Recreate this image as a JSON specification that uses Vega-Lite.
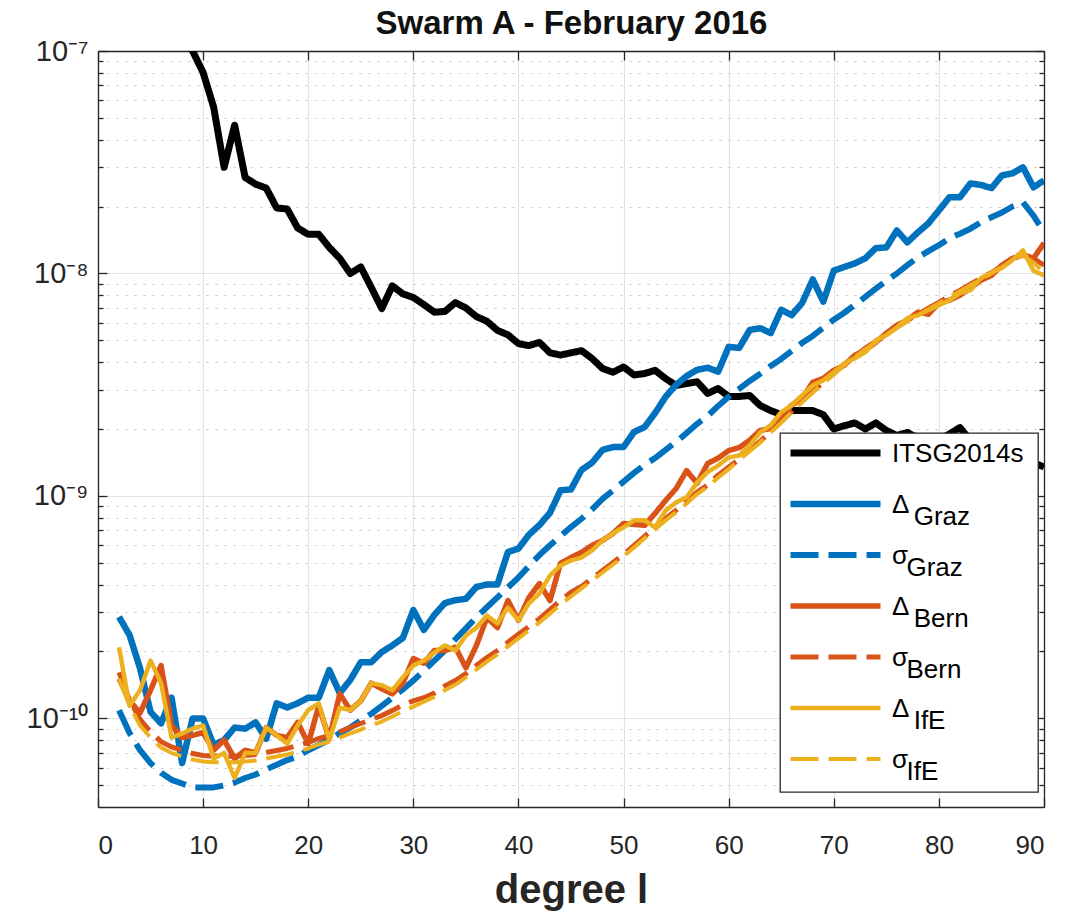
{
  "$schema": "https://vega.github.io/schema/vega-lite/v6.json",
  "width": 946,
  "height": 756,
  "autosize": {"type": "none"},
  "padding": {"left": 98, "top": 51, "right": 21, "bottom": 110},
  "background": "white",
  "data": {
    "values": [
      {"l": 2, "D_Graz": 2.86e-10, "S_Graz": 1.09e-10, "D_Bern": 1.51e-10, "S_Bern": 1.61e-10, "D_IfE": 2.09e-10, "S_IfE": 1.51e-10},
      {"l": 3, "D_Graz": 2.37e-10, "S_Graz": 8.6e-11, "D_Bern": 1.20e-10, "S_Bern": 1.21e-10, "D_IfE": 1.14e-10, "S_IfE": 1.14e-10},
      {"l": 4, "D_Graz": 1.68e-10, "S_Graz": 7.2e-11, "D_Bern": 1.06e-10, "S_Bern": 9.9e-11, "D_IfE": 1.34e-10, "S_IfE": 9.3e-11},
      {"l": 5, "D_Graz": 1.07e-10, "S_Graz": 6.3e-11, "D_Bern": 1.34e-10, "S_Bern": 8.72e-11, "D_IfE": 1.82e-10, "S_IfE": 8.2e-11},
      {"l": 6, "D_Graz": 9.5e-11, "S_Graz": 5.7e-11, "D_Bern": 1.73e-10, "S_Bern": 7.87e-11, "D_IfE": 1.44e-10, "S_IfE": 7.4e-11},
      {"l": 7, "D_Graz": 1.24e-10, "S_Graz": 5.3e-11, "D_Bern": 9.3e-11, "S_Bern": 7.45e-11, "D_IfE": 8.2e-11, "S_IfE": 7.0e-11},
      {"l": 8, "ITSG2014s": 1.25e-7, "D_Graz": 6.3e-11, "S_Graz": 5.1e-11, "D_Bern": 8.2e-11, "S_Bern": 7.18e-11, "D_IfE": 8.56e-11, "S_IfE": 6.75e-11},
      {"l": 9, "ITSG2014s": 1.0e-7, "D_Graz": 1.0e-10, "S_Graz": 4.9e-11, "D_Bern": 8.4e-11, "S_Bern": 6.96e-11, "D_IfE": 9.0e-11, "S_IfE": 6.54e-11},
      {"l": 10, "ITSG2014s": 8.0e-8, "D_Graz": 1.0e-10, "S_Graz": 4.9e-11, "D_Bern": 8.65e-11, "S_Bern": 6.82e-11, "D_IfE": 9.3e-11, "S_IfE": 6.41e-11},
      {"l": 11, "ITSG2014s": 5.6e-8, "D_Graz": 7.6e-11, "S_Graz": 4.9e-11, "D_Bern": 7.2e-11, "S_Bern": 6.76e-11, "D_IfE": 6.6e-11, "S_IfE": 6.35e-11},
      {"l": 12, "ITSG2014s": 3.0e-8, "D_Graz": 8.0e-11, "S_Graz": 5.0e-11, "D_Bern": 8.0e-11, "S_Bern": 6.76e-11, "D_IfE": 7.0e-11, "S_IfE": 6.35e-11},
      {"l": 13, "ITSG2014s": 4.64e-8, "D_Graz": 9.1e-11, "S_Graz": 5.15e-11, "D_Bern": 6.6e-11, "S_Bern": 6.76e-11, "D_IfE": 5.4e-11, "S_IfE": 6.35e-11},
      {"l": 14, "ITSG2014s": 2.7e-8, "D_Graz": 9.0e-11, "S_Graz": 5.4e-11, "D_Bern": 7.2e-11, "S_Bern": 6.82e-11, "D_IfE": 7.0e-11, "S_IfE": 6.41e-11},
      {"l": 15, "ITSG2014s": 2.52e-8, "D_Graz": 9.6e-11, "S_Graz": 5.6e-11, "D_Bern": 7.0e-11, "S_Bern": 6.88e-11, "D_IfE": 7.0e-11, "S_IfE": 6.47e-11},
      {"l": 16, "ITSG2014s": 2.42e-8, "D_Graz": 8.1e-11, "S_Graz": 5.9e-11, "D_Bern": 9.1e-11, "S_Bern": 7.03e-11, "D_IfE": 9.1e-11, "S_IfE": 6.61e-11},
      {"l": 17, "ITSG2014s": 1.97e-8, "D_Graz": 1.17e-10, "S_Graz": 6.2e-11, "D_Bern": 8.4e-11, "S_Bern": 7.18e-11, "D_IfE": 8.4e-11, "S_IfE": 6.75e-11},
      {"l": 18, "ITSG2014s": 1.95e-8, "D_Graz": 1.12e-10, "S_Graz": 6.5e-11, "D_Bern": 8.2e-11, "S_Bern": 7.33e-11, "D_IfE": 7.7e-11, "S_IfE": 6.89e-11},
      {"l": 19, "ITSG2014s": 1.6e-8, "D_Graz": 1.17e-10, "S_Graz": 6.75e-11, "D_Bern": 9.6e-11, "S_Bern": 7.57e-11, "D_IfE": 9.3e-11, "S_IfE": 7.11e-11},
      {"l": 20, "ITSG2014s": 1.5e-8, "D_Graz": 1.24e-10, "S_Graz": 7.2e-11, "D_Bern": 7.7e-11, "S_Bern": 7.8e-11, "D_IfE": 1.09e-10, "S_IfE": 7.33e-11},
      {"l": 21, "ITSG2014s": 1.5e-8, "D_Graz": 1.24e-10, "S_Graz": 7.6e-11, "D_Bern": 1.14e-10, "S_Bern": 8.13e-11, "D_IfE": 1.17e-10, "S_IfE": 7.64e-11},
      {"l": 22, "ITSG2014s": 1.31e-8, "D_Graz": 1.65e-10, "S_Graz": 8.0e-11, "D_Bern": 8.1e-11, "S_Bern": 8.38e-11, "D_IfE": 8.0e-11, "S_IfE": 7.88e-11},
      {"l": 23, "ITSG2014s": 1.17e-8, "D_Graz": 1.30e-10, "S_Graz": 8.6e-11, "D_Bern": 1.29e-10, "S_Bern": 8.72e-11, "D_IfE": 1.12e-10, "S_IfE": 8.2e-11},
      {"l": 24, "ITSG2014s": 1.0e-8, "D_Graz": 1.49e-10, "S_Graz": 9.1e-11, "D_Bern": 1.09e-10, "S_Bern": 9.11e-11, "D_IfE": 1.09e-10, "S_IfE": 8.56e-11},
      {"l": 25, "ITSG2014s": 1.07e-8, "D_Graz": 1.79e-10, "S_Graz": 9.8e-11, "D_Bern": 1.20e-10, "S_Bern": 9.49e-11, "D_IfE": 1.20e-10, "S_IfE": 8.92e-11},
      {"l": 26, "ITSG2014s": 8.65e-9, "D_Graz": 1.79e-10, "S_Graz": 1.05e-10, "D_Bern": 1.44e-10, "S_Bern": 9.9e-11, "D_IfE": 1.44e-10, "S_IfE": 9.3e-11},
      {"l": 27, "ITSG2014s": 6.96e-9, "D_Graz": 1.99e-10, "S_Graz": 1.14e-10, "D_Bern": 1.36e-10, "S_Bern": 1.03e-10, "D_IfE": 1.41e-10, "S_IfE": 9.69e-11},
      {"l": 28, "ITSG2014s": 8.8e-9, "D_Graz": 2.13e-10, "S_Graz": 1.24e-10, "D_Bern": 1.29e-10, "S_Bern": 1.085e-10, "D_IfE": 1.34e-10, "S_IfE": 1.02e-10},
      {"l": 29, "ITSG2014s": 8.1e-9, "D_Graz": 2.3e-10, "S_Graz": 1.35e-10, "D_Bern": 1.44e-10, "S_Bern": 1.15e-10, "D_IfE": 1.53e-10, "S_IfE": 1.08e-10},
      {"l": 30, "ITSG2014s": 7.8e-9, "D_Graz": 3.07e-10, "S_Graz": 1.48e-10, "D_Bern": 1.86e-10, "S_Bern": 1.20e-10, "D_IfE": 1.73e-10, "S_IfE": 1.13e-10},
      {"l": 31, "ITSG2014s": 7.25e-9, "D_Graz": 2.5e-10, "S_Graz": 1.64e-10, "D_Bern": 1.77e-10, "S_Bern": 1.24e-10, "D_IfE": 1.82e-10, "S_IfE": 1.19e-10},
      {"l": 32, "ITSG2014s": 6.7e-9, "D_Graz": 2.92e-10, "S_Graz": 1.82e-10, "D_Bern": 2.02e-10, "S_Bern": 1.30e-10, "D_IfE": 1.98e-10, "S_IfE": 1.25e-10},
      {"l": 33, "ITSG2014s": 6.75e-9, "D_Graz": 3.3e-10, "S_Graz": 2.02e-10, "D_Bern": 2.02e-10, "S_Bern": 1.40e-10, "D_IfE": 2.13e-10, "S_IfE": 1.34e-10},
      {"l": 34, "ITSG2014s": 7.4e-9, "D_Graz": 3.4e-10, "S_Graz": 2.27e-10, "D_Bern": 2.09e-10, "S_Bern": 1.48e-10, "D_IfE": 2.02e-10, "S_IfE": 1.42e-10},
      {"l": 35, "ITSG2014s": 7.0e-9, "D_Graz": 3.45e-10, "S_Graz": 2.54e-10, "D_Bern": 1.69e-10, "S_Bern": 1.59e-10, "D_IfE": 2.36e-10, "S_IfE": 1.53e-10},
      {"l": 36, "ITSG2014s": 6.4e-9, "D_Graz": 3.9e-10, "S_Graz": 2.85e-10, "D_Bern": 2.13e-10, "S_Bern": 1.73e-10, "D_IfE": 2.56e-10, "S_IfE": 1.66e-10},
      {"l": 37, "ITSG2014s": 6.1e-9, "D_Graz": 4.0e-10, "S_Graz": 3.16e-10, "D_Bern": 2.84e-10, "S_Bern": 1.88e-10, "D_IfE": 2.90e-10, "S_IfE": 1.80e-10},
      {"l": 38, "ITSG2014s": 5.55e-9, "D_Graz": 4.0e-10, "S_Graz": 3.5e-10, "D_Bern": 2.56e-10, "S_Bern": 2.02e-10, "D_IfE": 2.67e-10, "S_IfE": 1.94e-10},
      {"l": 39, "ITSG2014s": 5.3e-9, "D_Graz": 5.6e-10, "S_Graz": 3.88e-10, "D_Bern": 3.39e-10, "S_Bern": 2.20e-10, "D_IfE": 3.15e-10, "S_IfE": 2.11e-10},
      {"l": 40, "ITSG2014s": 4.84e-9, "D_Graz": 5.8e-10, "S_Graz": 4.3e-10, "D_Bern": 2.76e-10, "S_Bern": 2.39e-10, "D_IfE": 2.76e-10, "S_IfE": 2.29e-10},
      {"l": 41, "ITSG2014s": 4.74e-9, "D_Graz": 6.7e-10, "S_Graz": 4.84e-10, "D_Bern": 3.5e-10, "S_Bern": 2.59e-10, "D_IfE": 3.29e-10, "S_IfE": 2.49e-10},
      {"l": 42, "ITSG2014s": 4.9e-9, "D_Graz": 7.4e-10, "S_Graz": 5.43e-10, "D_Bern": 4.04e-10, "S_Bern": 2.81e-10, "D_IfE": 3.65e-10, "S_IfE": 2.70e-10},
      {"l": 43, "ITSG2014s": 4.4e-9, "D_Graz": 8.4e-10, "S_Graz": 6.0e-10, "D_Bern": 3.39e-10, "S_Bern": 3.08e-10, "D_IfE": 4.39e-10, "S_IfE": 2.96e-10},
      {"l": 44, "ITSG2014s": 4.3e-9, "D_Graz": 1.06e-9, "S_Graz": 6.6e-10, "D_Bern": 4.98e-10, "S_Bern": 3.39e-10, "D_IfE": 4.87e-10, "S_IfE": 3.25e-10},
      {"l": 45, "ITSG2014s": 4.4e-9, "D_Graz": 1.07e-9, "S_Graz": 7.25e-10, "D_Bern": 5.29e-10, "S_Bern": 3.69e-10, "D_IfE": 5.13e-10, "S_IfE": 3.54e-10},
      {"l": 46, "ITSG2014s": 4.5e-9, "D_Graz": 1.31e-9, "S_Graz": 7.9e-10, "D_Bern": 5.58e-10, "S_Bern": 3.92e-10, "D_IfE": 5.29e-10, "S_IfE": 3.84e-10},
      {"l": 47, "ITSG2014s": 4.15e-9, "D_Graz": 1.41e-9, "S_Graz": 8.7e-10, "D_Bern": 6.0e-10, "S_Bern": 4.26e-10, "D_IfE": 5.69e-10, "S_IfE": 4.17e-10},
      {"l": 48, "ITSG2014s": 3.74e-9, "D_Graz": 1.61e-9, "S_Graz": 9.7e-10, "D_Bern": 6.31e-10, "S_Bern": 4.63e-10, "D_IfE": 6.31e-10, "S_IfE": 4.53e-10},
      {"l": 49, "ITSG2014s": 3.6e-9, "D_Graz": 1.66e-9, "S_Graz": 1.06e-9, "D_Bern": 6.79e-10, "S_Bern": 5.02e-10, "D_IfE": 6.79e-10, "S_IfE": 4.92e-10},
      {"l": 50, "ITSG2014s": 3.8e-9, "D_Graz": 1.66e-9, "S_Graz": 1.16e-9, "D_Bern": 7.53e-10, "S_Bern": 5.46e-10, "D_IfE": 7.23e-10, "S_IfE": 5.35e-10},
      {"l": 51, "ITSG2014s": 3.5e-9, "D_Graz": 1.94e-9, "S_Graz": 1.27e-9, "D_Bern": 7.45e-10, "S_Bern": 5.99e-10, "D_IfE": 7.77e-10, "S_IfE": 5.87e-10},
      {"l": 52, "ITSG2014s": 3.55e-9, "D_Graz": 2.04e-9, "S_Graz": 1.38e-9, "D_Bern": 7.38e-10, "S_Bern": 6.59e-10, "D_IfE": 7.77e-10, "S_IfE": 6.45e-10},
      {"l": 53, "ITSG2014s": 3.67e-9, "D_Graz": 2.36e-9, "S_Graz": 1.48e-9, "D_Bern": 8.35e-10, "S_Bern": 7.23e-10, "D_IfE": 7.23e-10, "S_IfE": 7.08e-10},
      {"l": 54, "ITSG2014s": 3.37e-9, "D_Graz": 2.79e-9, "S_Graz": 1.61e-9, "D_Bern": 9.55e-10, "S_Bern": 7.93e-10, "D_IfE": 8.61e-10, "S_IfE": 7.77e-10},
      {"l": 55, "ITSG2014s": 3.14e-9, "D_Graz": 3.16e-9, "S_Graz": 1.75e-9, "D_Bern": 1.08e-9, "S_Bern": 8.62e-10, "D_IfE": 9.36e-10, "S_IfE": 8.44e-10},
      {"l": 56, "ITSG2014s": 3.2e-9, "D_Graz": 3.46e-9, "S_Graz": 1.92e-9, "D_Bern": 1.30e-9, "S_Bern": 9.45e-10, "D_IfE": 9.86e-10, "S_IfE": 9.26e-10},
      {"l": 57, "ITSG2014s": 3.26e-9, "D_Graz": 3.69e-9, "S_Graz": 2.11e-9, "D_Bern": 1.14e-9, "S_Bern": 1.04e-9, "D_IfE": 1.15e-9, "S_IfE": 1.02e-9},
      {"l": 58, "ITSG2014s": 2.89e-9, "D_Graz": 3.77e-9, "S_Graz": 2.29e-9, "D_Bern": 1.40e-9, "S_Bern": 1.12e-9, "D_IfE": 1.28e-9, "S_IfE": 1.10e-9},
      {"l": 59, "ITSG2014s": 3.04e-9, "D_Graz": 3.62e-9, "S_Graz": 2.54e-9, "D_Bern": 1.48e-9, "S_Bern": 1.24e-9, "D_IfE": 1.37e-9, "S_IfE": 1.21e-9},
      {"l": 60, "ITSG2014s": 2.8e-9, "D_Graz": 4.68e-9, "S_Graz": 2.79e-9, "D_Bern": 1.60e-9, "S_Bern": 1.35e-9, "D_IfE": 1.49e-9, "S_IfE": 1.32e-9},
      {"l": 61, "ITSG2014s": 2.8e-9, "D_Graz": 4.63e-9, "S_Graz": 3.03e-9, "D_Bern": 1.65e-9, "S_Bern": 1.46e-9, "D_IfE": 1.52e-9, "S_IfE": 1.45e-9},
      {"l": 62, "ITSG2014s": 2.83e-9, "D_Graz": 5.57e-9, "S_Graz": 3.29e-9, "D_Bern": 1.78e-9, "S_Bern": 1.61e-9, "D_IfE": 1.69e-9, "S_IfE": 1.59e-9},
      {"l": 63, "ITSG2014s": 2.55e-9, "D_Graz": 5.68e-9, "S_Graz": 3.54e-9, "D_Bern": 1.97e-9, "S_Bern": 1.76e-9, "D_IfE": 1.93e-9, "S_IfE": 1.74e-9},
      {"l": 64, "ITSG2014s": 2.42e-9, "D_Graz": 5.4e-9, "S_Graz": 3.84e-9, "D_Bern": 2.01e-9, "S_Bern": 1.95e-9, "D_IfE": 2.08e-9, "S_IfE": 1.93e-9},
      {"l": 65, "ITSG2014s": 2.32e-9, "D_Graz": 6.87e-9, "S_Graz": 4.13e-9, "D_Bern": 2.3e-9, "S_Bern": 2.16e-9, "D_IfE": 2.38e-9, "S_IfE": 2.14e-9},
      {"l": 66, "ITSG2014s": 2.42e-9, "D_Graz": 6.5e-9, "S_Graz": 4.49e-9, "D_Bern": 2.56e-9, "S_Bern": 2.40e-9, "D_IfE": 2.56e-9, "S_IfE": 2.38e-9},
      {"l": 67, "ITSG2014s": 2.42e-9, "D_Graz": 7.39e-9, "S_Graz": 4.88e-9, "D_Bern": 2.75e-9, "S_Bern": 2.67e-9, "D_IfE": 2.84e-9, "S_IfE": 2.64e-9},
      {"l": 68, "ITSG2014s": 2.42e-9, "D_Graz": 9.4e-9, "S_Graz": 5.24e-9, "D_Bern": 3.24e-9, "S_Bern": 2.95e-9, "D_IfE": 3.14e-9, "S_IfE": 2.92e-9},
      {"l": 69, "ITSG2014s": 2.32e-9, "D_Graz": 7.47e-9, "S_Graz": 5.7e-9, "D_Bern": 3.38e-9, "S_Bern": 3.24e-9, "D_IfE": 3.31e-9, "S_IfE": 3.21e-9},
      {"l": 70, "ITSG2014s": 2.0e-9, "D_Graz": 1.03e-8, "S_Graz": 6.2e-9, "D_Bern": 3.67e-9, "S_Bern": 3.56e-9, "D_IfE": 3.6e-9, "S_IfE": 3.52e-9},
      {"l": 71, "ITSG2014s": 2.07e-9, "D_Graz": 1.07e-8, "S_Graz": 6.66e-9, "D_Bern": 3.87e-9, "S_Bern": 3.91e-9, "D_IfE": 3.95e-9, "S_IfE": 3.87e-9},
      {"l": 72, "ITSG2014s": 2.13e-9, "D_Graz": 1.11e-8, "S_Graz": 7.23e-9, "D_Bern": 4.29e-9, "S_Bern": 4.24e-9, "D_IfE": 4.16e-9, "S_IfE": 4.2e-9},
      {"l": 73, "ITSG2014s": 2.0e-9, "D_Graz": 1.17e-8, "S_Graz": 7.86e-9, "D_Bern": 4.52e-9, "S_Bern": 4.62e-9, "D_IfE": 4.43e-9, "S_IfE": 4.57e-9},
      {"l": 74, "ITSG2014s": 2.13e-9, "D_Graz": 1.30e-8, "S_Graz": 8.54e-9, "D_Bern": 4.91e-9, "S_Bern": 4.96e-9, "D_IfE": 5.01e-9, "S_IfE": 4.91e-9},
      {"l": 75, "ITSG2014s": 1.97e-9, "D_Graz": 1.31e-8, "S_Graz": 9.28e-9, "D_Bern": 5.39e-9, "S_Bern": 5.33e-9, "D_IfE": 5.28e-9, "S_IfE": 5.28e-9},
      {"l": 76, "ITSG2014s": 1.87e-9, "D_Graz": 1.56e-8, "S_Graz": 1.0e-8, "D_Bern": 5.85e-9, "S_Bern": 5.74e-9, "D_IfE": 5.73e-9, "S_IfE": 5.68e-9},
      {"l": 77, "ITSG2014s": 1.93e-9, "D_Graz": 1.38e-8, "S_Graz": 1.09e-8, "D_Bern": 6.17e-9, "S_Bern": 6.16e-9, "D_IfE": 6.29e-9, "S_IfE": 6.1e-9},
      {"l": 78, "ITSG2014s": 1.82e-9, "D_Graz": 1.53e-8, "S_Graz": 1.18e-8, "D_Bern": 6.7e-9, "S_Bern": 6.55e-9, "D_IfE": 6.49e-9, "S_IfE": 6.49e-9},
      {"l": 79, "ITSG2014s": 1.85e-9, "D_Graz": 1.68e-8, "S_Graz": 1.26e-8, "D_Bern": 6.56e-9, "S_Bern": 6.98e-9, "D_IfE": 6.84e-9, "S_IfE": 6.91e-9},
      {"l": 80, "ITSG2014s": 1.78e-9, "D_Graz": 1.92e-8, "S_Graz": 1.34e-8, "D_Bern": 7.35e-9, "S_Bern": 7.42e-9, "D_IfE": 7.2e-9, "S_IfE": 7.35e-9},
      {"l": 81, "ITSG2014s": 1.9e-9, "D_Graz": 2.2e-8, "S_Graz": 1.44e-8, "D_Bern": 7.58e-9, "S_Bern": 7.9e-9, "D_IfE": 7.58e-9, "S_IfE": 7.82e-9},
      {"l": 82, "ITSG2014s": 2.03e-9, "D_Graz": 2.2e-8, "S_Graz": 1.51e-8, "D_Bern": 7.99e-9, "S_Bern": 8.4e-9, "D_IfE": 8.15e-9, "S_IfE": 8.32e-9},
      {"l": 83, "ITSG2014s": 1.78e-9, "D_Graz": 2.54e-8, "S_Graz": 1.59e-8, "D_Bern": 8.59e-9, "S_Bern": 8.95e-9, "D_IfE": 8.41e-9, "S_IfE": 8.86e-9},
      {"l": 84, "ITSG2014s": 1.7e-9, "D_Graz": 2.5e-8, "S_Graz": 1.70e-8, "D_Bern": 9.33e-9, "S_Bern": 9.52e-9, "D_IfE": 9.53e-9, "S_IfE": 9.43e-9},
      {"l": 85, "ITSG2014s": 1.65e-9, "D_Graz": 2.42e-8, "S_Graz": 1.79e-8, "D_Bern": 9.8e-9, "S_Bern": 1.01e-8, "D_IfE": 1.01e-8, "S_IfE": 1.0e-8},
      {"l": 86, "ITSG2014s": 1.58e-9, "D_Graz": 2.76e-8, "S_Graz": 1.88e-8, "D_Bern": 1.09e-8, "S_Bern": 1.08e-8, "D_IfE": 1.06e-8, "S_IfE": 1.07e-8},
      {"l": 87, "ITSG2014s": 1.52e-9, "D_Graz": 2.82e-8, "S_Graz": 2.0e-8, "D_Bern": 1.17e-8, "S_Bern": 1.15e-8, "D_IfE": 1.15e-8, "S_IfE": 1.14e-8},
      {"l": 88, "ITSG2014s": 1.45e-9, "D_Graz": 3.0e-8, "S_Graz": 2.09e-8, "D_Bern": 1.21e-8, "S_Bern": 1.22e-8, "D_IfE": 1.27e-8, "S_IfE": 1.21e-8},
      {"l": 89, "ITSG2014s": 1.41e-9, "D_Graz": 2.44e-8, "S_Graz": 1.82e-8, "D_Bern": 1.17e-8, "S_Bern": 1.17e-8, "D_IfE": 1.03e-8, "S_IfE": 1.12e-8},
      {"l": 90, "ITSG2014s": 1.35e-9, "D_Graz": 2.62e-8, "S_Graz": 1.53e-8, "D_Bern": 1.37e-8, "S_Bern": 1.09e-8, "D_IfE": 9.8e-9, "S_IfE": 1.01e-8}
    ]
  },
  "transform": [
    {"fold": ["ITSG2014s", "D_Graz", "S_Graz", "D_Bern", "S_Bern", "D_IfE", "S_IfE"], "as": ["series", "v"]},
    {"filter": "isValid(datum.v)"}
  ],
  "encoding": {
    "x": {"field": "l", "type": "quantitative", "scale": {"domain": [0, 90], "nice": false, "zero": false}},
    "y": {"field": "v", "type": "quantitative", "scale": {"type": "log", "domain": [4e-11, 1e-7], "nice": false}},
    "color": {
      "field": "series", "type": "nominal", "title": null,
      "scale": {
        "domain": ["ITSG2014s", "D_Graz", "S_Graz", "D_Bern", "S_Bern", "D_IfE", "S_IfE"],
        "range": ["#000000", "#0072BD", "#0072BD", "#D95319", "#D95319", "#EDB120", "#EDB120"]
      },
      "legend": {
        "labelExpr": "datum.value == 'ITSG2014s' ? ['ITSG2014s\u00a0\u200b', '\u200b'] : indexof(datum.value, 'D_') == 0 ? ['Δ', '\u200b\u00a0\u00a0\u00a0' + substring(datum.value, 2)] : ['σ', '\u200b\u00a0\u00a0' + substring(datum.value, 2)]",
        "encode": {"labels": {"update": {"dy": {"value": 9}, "lineHeight": {"value": 12}}}}
      }
    },
    "strokeDash": {
      "field": "series", "type": "nominal", "title": null,
      "scale": {
        "domain": ["ITSG2014s", "D_Graz", "S_Graz", "D_Bern", "S_Bern", "D_IfE", "S_IfE"],
        "range": [[1, 0], [1, 0], [28, 10], [1, 0], [28, 10], [1, 0], [28, 10]]
      }
    },
    "strokeWidth": {
      "field": "series", "type": "nominal", "title": null,
      "scale": {
        "domain": ["ITSG2014s", "D_Graz", "S_Graz", "D_Bern", "S_Bern", "D_IfE", "S_IfE"],
        "range": [7, 4, 8, 4, 8, 4, 8]
      }
    }
  },
  "layer": [
    {
      "transform": [{"filter": "datum.series == 'ITSG2014s'"}],
      "mark": {"type": "line", "clip": true, "strokeJoin": "round"},
      "encoding": {
        "x": {
          "field": "l", "type": "quantitative", "title": "degree l",
          "axis": {
            "orient": "bottom", "values": [0, 10, 20, 30, 40, 50, 60, 70, 80, 90],
            "grid": true, "gridColor": "#e3e3e3", "gridWidth": 1.2,
            "tickSize": -9, "labelPadding": 34, "labelFontSize": 26,
            "titleFontSize": 40, "titleFontWeight": "bold", "titlePadding": 12
          }
        },
        "y": {
          "field": "v", "type": "quantitative",
          "axis": {
            "orient": "left", "title": null, "values": [1e-10, 1e-9, 1e-8, 1e-7],
            "grid": true, "gridColor": "#e3e3e3", "gridWidth": 1.2,
            "tickSize": -9, "labelPadding": 19, "labelFontSize": 29,
            "labelExpr": "datum.value < 5e-10 ? '10⁻¹⁰' : datum.value < 5e-9 ? '10⁻⁹' : datum.value < 5e-8 ? '10⁻⁸' : '10⁻⁷'"
          }
        }
      }
    },
    {
      "transform": [{"filter": "datum.series == 'D_Graz' || datum.series == 'S_Graz'"}],
      "mark": {"type": "line", "clip": true, "strokeJoin": "round"},
      "encoding": {
        "x": {
          "field": "l", "type": "quantitative", "title": "Swarm A - February 2016",
          "axis": {
            "orient": "top", "values": [0, 10, 20, 30, 40, 50, 60, 70, 80, 90],
            "grid": false, "labels": false, "tickSize": -9,
            "titleFontSize": 33, "titleFontWeight": "bold", "titleColor": "#111111",
            "titleBaseline": "alphabetic", "titlePadding": 17
          }
        },
        "y": {
          "field": "v", "type": "quantitative",
          "axis": {
            "orient": "right", "title": null, "grid": false, "labels": false,
            "values": [5e-11, 6e-11, 7e-11, 8e-11, 9e-11, 1e-10, 2e-10, 3e-10, 4e-10, 5e-10, 6e-10, 7e-10, 8e-10, 9e-10, 1e-9, 2e-9, 3e-9, 4e-9, 5e-9, 6e-9, 7e-9, 8e-9, 9e-9, 1e-8, 2e-8, 3e-8, 4e-8, 5e-8, 6e-8, 7e-8, 8e-8, 9e-8, 1e-7],
            "tickSize": {"condition": {"test": "datum.value == 1e-10 || datum.value == 1e-9 || datum.value == 1e-8 || datum.value == 1e-7", "value": -9}, "value": -5}
          }
        }
      }
    },
    {
      "transform": [{"filter": "datum.series == 'D_Bern' || datum.series == 'S_Bern' || datum.series == 'D_IfE' || datum.series == 'S_IfE'"}],
      "mark": {"type": "line", "clip": true, "strokeJoin": "round"},
      "encoding": {
        "x": {"field": "l", "type": "quantitative", "axis": null},
        "y": {
          "field": "v", "type": "quantitative",
          "axis": {
            "orient": "left", "title": null, "labels": false, "domain": false,
            "values": [5e-11, 6e-11, 7e-11, 8e-11, 9e-11, 2e-10, 3e-10, 4e-10, 5e-10, 6e-10, 7e-10, 8e-10, 9e-10, 2e-9, 3e-9, 4e-9, 5e-9, 6e-9, 7e-9, 8e-9, 9e-9, 2e-8, 3e-8, 4e-8, 5e-8, 6e-8, 7e-8, 8e-8, 9e-8],
            "grid": true, "gridColor": "#c4c4c4", "gridDash": [2, 7], "gridWidth": 1.2,
            "tickSize": -5
          }
        }
      }
    }
  ],
  "resolve": {"axis": {"x": "independent", "y": "independent"}},
  "config": {
    "view": {"stroke": null},
    "axis": {
      "domainColor": "#262626", "domainWidth": 1.3,
      "tickColor": "#262626", "tickWidth": 1.3,
      "labelColor": "#262626", "labelFont": "Liberation Sans",
      "titleColor": "#262626", "titleFont": "Liberation Sans"
    },
    "legend": {
      "orient": "none", "legendX": 682, "legendY": 382,
      "padding": 7, "fillColor": "white", "strokeColor": "#262626", "strokeWidth": 1.3,
      "symbolType": "stroke", "symbolSize": 8100, "clipHeight": 26, "rowPadding": 12,
      "labelFont": "Liberation Sans", "labelFontSize": 26, "labelColor": "#000000",
      "labelOffset": 8, "labelLimit": 0, "labelBaseline": "alphabetic"
    }
  }
}
